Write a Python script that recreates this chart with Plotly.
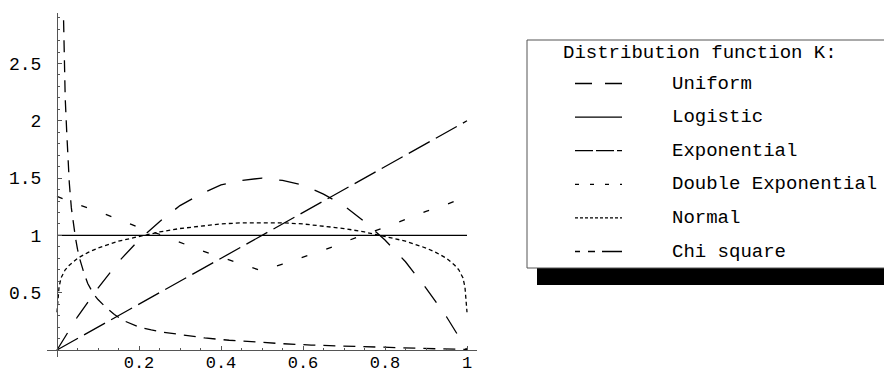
import plotly.graph_objects as go

# ---- density curves of the statistic K under several distributions ----
unif_x = [0.0, 0.05, 0.10, 0.15, 0.20, 0.25, 0.30, 0.35, 0.40, 0.45, 0.50,
          0.55, 0.60, 0.65, 0.70, 0.75, 0.80, 0.85, 0.90, 0.95, 1.0]
unif_y = [0.0, 0.29, 0.54, 0.77, 0.96, 1.12, 1.26, 1.36, 1.44, 1.48, 1.50,
          1.48, 1.44, 1.36, 1.26, 1.12, 0.96, 0.77, 0.54, 0.29, 0.0]

logis_x = [0.0, 1.0]
logis_y = [1.0, 1.0]

expo_x = [0.0, 1.0]
expo_y = [0.0, 2.0]

dexp_x = [0.0, 0.05, 0.10, 0.15, 0.20, 0.25, 0.30, 0.35, 0.40, 0.45, 0.50,
          0.55, 0.60, 0.65, 0.70, 0.75, 0.80, 0.85, 0.90, 0.95, 1.0]
dexp_y = [1.34, 1.27, 1.21, 1.14, 1.07, 1.01, 0.94, 0.87, 0.81, 0.75, 0.69,
          0.75, 0.81, 0.87, 0.94, 1.01, 1.07, 1.14, 1.21, 1.27, 1.34]

norm_x = [0.0, 0.002, 0.005, 0.01, 0.02, 0.03, 0.05, 0.075, 0.10, 0.15, 0.20,
          0.25, 0.30, 0.35, 0.40, 0.45, 0.50, 0.55, 0.60, 0.65, 0.70, 0.75,
          0.80, 0.85, 0.90, 0.925, 0.95, 0.97, 0.98, 0.99, 0.995, 0.998, 1.0]
norm_y = [0.33, 0.45, 0.55, 0.63, 0.70, 0.74, 0.80, 0.85, 0.89, 0.95, 0.99,
          1.03, 1.06, 1.08, 1.10, 1.11, 1.11, 1.11, 1.10, 1.08, 1.06, 1.03,
          0.99, 0.95, 0.89, 0.85, 0.80, 0.74, 0.70, 0.63, 0.55, 0.45, 0.33]

chi_x = [0.013, 0.015, 0.017, 0.020, 0.024, 0.027, 0.030, 0.035, 0.040, 0.045,
         0.050, 0.055, 0.065, 0.075, 0.089, 0.10, 0.117, 0.14, 0.16, 0.18,
         0.20, 0.23, 0.26, 0.30, 0.36, 0.42, 0.48, 0.55, 0.62, 0.70, 0.78,
         0.86, 0.93, 1.0]
chi_y = [3.40, 2.94, 2.60, 2.20, 1.88, 1.66, 1.46, 1.24, 1.10, 0.98,
         0.88, 0.80, 0.68, 0.58, 0.49, 0.44, 0.38, 0.31, 0.26, 0.23,
         0.20, 0.175, 0.155, 0.135, 0.105, 0.085, 0.07, 0.055, 0.043, 0.033, 0.024,
         0.016, 0.010, 0.005]

names = ["Uniform", "Logistic", "Exponential", "Double Exponential", "Normal", "Chi square"]
series = [(unif_x, unif_y), (logis_x, logis_y), (expo_x, expo_y),
          (dexp_x, dexp_y), (norm_x, norm_y), (chi_x, chi_y)]
plot_dash = ["20px,17px", "solid", "24px,7px", "6px,20px", "4px,3px", "12px,8px"]
key_dash = ["17px,13px", "solid", "18px,3px", "4px,11px", "3px,2px",
            "5px,8px,7px,7px,20px,10px"]

x_ticks = [0.2, 0.4, 0.6, 0.8, 1.0]
x_tick_text = ["0.2", "0.4", "0.6", "0.8", "1"]
y_ticks = [0.5, 1.0, 1.5, 2.0, 2.5]
y_tick_text = ["0.5", "1", "1.5", "2", "2.5"]

# ---- page geometry (pixels) ----
W, H = 884, 376
L, R, T, B = 47, 477, 13, 357          # plotting rectangle
X_RANGE = [-0.02439, 1.02439]
Y_RANGE = [-0.0611, 2.9407]
MONO = "Liberation Mono, Courier New, monospace"
AXIS_COL = "#555555"


def paper_x(p):
    return (p - L) / (R - L)


def paper_y(p):
    return (B - p) / (B - T)


fig = go.Figure()
for (xs, ys), name, dash in zip(series, names, plot_dash):
    fig.add_trace(go.Scatter(x=xs, y=ys, mode="lines", name=name,
                             line=dict(color="black", width=1.3, dash=dash),
                             showlegend=False, hoverinfo="skip"))

# axes cross at the origin
x_axis_pos = (0 - Y_RANGE[0]) / (Y_RANGE[1] - Y_RANGE[0])
y_axis_pos = (0 - X_RANGE[0]) / (X_RANGE[1] - X_RANGE[0])

fig.update_layout(
    width=W, height=H,
    margin=dict(l=L, r=W - R, t=T, b=H - B, autoexpand=False),
    paper_bgcolor="white", plot_bgcolor="white",
    xaxis=dict(range=X_RANGE, anchor="free", position=x_axis_pos,
               showline=True, linecolor=AXIS_COL, linewidth=1,
               showgrid=False, zeroline=False,
               ticks="inside", ticklen=4, tickcolor=AXIS_COL,
               tickmode="array", tickvals=x_ticks, ticktext=x_tick_text,
               ticklabelstandoff=-3,
               minor=dict(ticks="inside", ticklen=2, tickcolor=AXIS_COL,
                          tick0=0, dtick=0.05, showgrid=False),
               tickfont=dict(family=MONO, size=17, color="black"),
               automargin=False, fixedrange=True),
    yaxis=dict(range=Y_RANGE, anchor="free", position=y_axis_pos,
               showline=True, linecolor=AXIS_COL, linewidth=1,
               showgrid=False, zeroline=False,
               ticks="inside", ticklen=4, tickcolor=AXIS_COL,
               tickmode="array", tickvals=y_ticks, ticktext=y_tick_text,
               ticklabelstandoff=12,
               minor=dict(ticks="inside", ticklen=2, tickcolor=AXIS_COL,
                          tick0=0, dtick=0.1, showgrid=False),
               tickfont=dict(family=MONO, size=18, color="black"),
               automargin=False, fixedrange=True),
)

# ---- key box with drop shadow ----
box_l, box_t, box_r, box_b = 527, 40, 892, 268
shadow_dx, shadow_dy = 10, 17
shapes = [
    dict(type="rect", xref="paper", yref="paper", layer="above",
         x0=paper_x(box_l + shadow_dx), x1=paper_x(box_r + shadow_dx),
         y0=paper_y(box_b), y1=paper_y(box_b + shadow_dy),
         fillcolor="black", line=dict(width=0)),
    dict(type="rect", xref="paper", yref="paper", layer="above",
         x0=paper_x(box_l), x1=paper_x(box_r),
         y0=paper_y(box_b), y1=paper_y(box_t),
         fillcolor="white", line=dict(color=AXIS_COL, width=1)),
]
annotations = [
    dict(text="Distribution function K:", xref="paper", yref="paper",
         x=paper_x(561), y=paper_y(53), xanchor="left", yanchor="middle",
         showarrow=False, font=dict(family=MONO, size=19, color="black")),
]
row_y0, row_dy = 83.5, 33.6
for i, (name, dash) in enumerate(zip(names, key_dash)):
    yy = paper_y(row_y0 + i * row_dy)
    shapes.append(dict(type="line", xref="paper", yref="paper", layer="above",
                       x0=paper_x(575), x1=paper_x(622), y0=yy, y1=yy,
                       line=dict(color="black", width=1.3, dash=dash)))
    annotations.append(dict(text=name, xref="paper", yref="paper",
                            x=paper_x(670), y=yy, xanchor="left", yanchor="middle",
                            showarrow=False,
                            font=dict(family=MONO, size=19, color="black")))

fig.update_layout(shapes=shapes, annotations=annotations)
fig.write_html("out.html")
